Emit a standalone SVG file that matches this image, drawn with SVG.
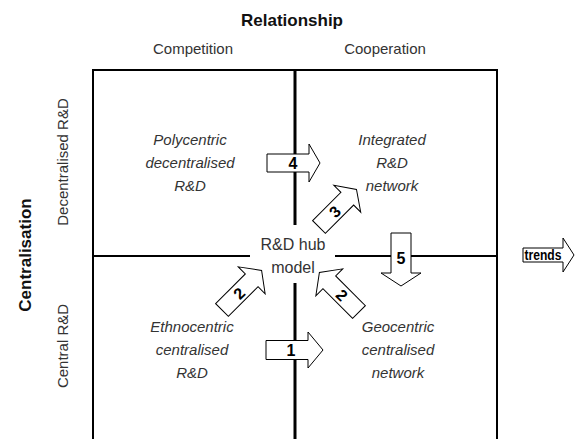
<svg xmlns="http://www.w3.org/2000/svg" width="581" height="439" viewBox="0 0 581 439">
<style>
.t{font-family:"Liberation Sans",Arial,sans-serif;fill:#222}
.hd{font-weight:bold;font-size:17px;fill:#111}
.ax{font-size:15px;fill:#333}
.q{font-style:italic;font-size:15px;fill:#333}
.num{font-weight:bold;font-size:16px;fill:#000}
.frame{stroke:#000;stroke-width:2;fill:none}
.mid{stroke:#000;stroke-width:3;fill:none}
.ba{fill:#fff;stroke:#000;stroke-width:1}
</style>
<rect width="581" height="439" fill="#fff"/>
<g id="frame">
<path class="frame" d="M93,439 V70 H497 V439"/>
<path class="frame" d="M93,256 H250 M335,256 H497"/>
<path class="mid" d="M295,70 V225 M295,283 V439"/>
</g>
<g id="axis-relationship">
<text class="t hd" x="292" y="26" text-anchor="middle">Relationship</text>
<text class="t ax" x="193" y="54" text-anchor="middle">Competition</text>
<text class="t ax" x="385" y="54" text-anchor="middle">Cooperation</text>
</g>
<g id="axis-centralisation">
<text class="t hd" transform="translate(31,255) rotate(-90)" text-anchor="middle">Centralisation</text>
<text class="t ax" transform="translate(68,162) rotate(-90)" text-anchor="middle">Decentralised R&amp;D</text>
<text class="t ax" transform="translate(68,346) rotate(-90)" text-anchor="middle">Central R&amp;D</text>
</g>
<g id="polycentric">
<text class="t q" x="190" text-anchor="middle"><tspan x="190" y="145">Polycentric</tspan><tspan x="190" y="168">decentralised</tspan><tspan x="190" y="191">R&amp;D</tspan></text>
</g>
<g id="integrated">
<text class="t q" x="392" text-anchor="middle"><tspan x="392" y="145">Integrated</tspan><tspan x="392" y="168">R&amp;D</tspan><tspan x="392" y="191">network</tspan></text>
</g>
<g id="ethnocentric">
<text class="t q" x="192" text-anchor="middle"><tspan x="192" y="332">Ethnocentric</tspan><tspan x="192" y="355">centralised</tspan><tspan x="192" y="378">R&amp;D</tspan></text>
</g>
<g id="geocentric">
<text class="t q" x="398" text-anchor="middle"><tspan x="398" y="332">Geocentric</tspan><tspan x="398" y="355">centralised</tspan><tspan x="398" y="378">network</tspan></text>
</g>
<g id="hub">
<text class="t ax" x="293" y="250" text-anchor="middle" style="font-size:16px">R&amp;D hub</text>
<text class="t ax" x="293" y="273" text-anchor="middle" style="font-size:16px">model</text>
</g>
<g id="connectors">
<g id="arrow-4" transform="translate(267,163)">
<path class="ba" d="M0,-9 H42 V-19 L53,0 L42,19 V9 H0 Z"/>
<text class="t num" x="26" y="6" text-anchor="middle">4</text>
</g>
<g id="arrow-1" transform="translate(266,350)">
<path class="ba" d="M0,-9.5 H42 V-18 L57,0 L42,18 V9.5 H0 Z"/>
<text class="t num" x="25" y="6" text-anchor="middle">1</text>
</g>
<g id="arrow-5" transform="translate(401,233) rotate(90)">
<path class="ba" d="M0,-10 H40 V-20 L53,0 L40,20 V10 H0 Z"/>
<text class="t num" transform="translate(25,0) rotate(-90)" y="6" text-anchor="middle">5</text>
</g>
<g id="arrow-3" transform="translate(319,227) rotate(-45)">
<path class="ba" d="M0,-9 H40 V-19 L53,0 L40,19 V9 H0 Z"/>
<text class="t num" x="22" y="6" text-anchor="middle">3</text>
</g>
<g id="arrow-2a" transform="translate(222,310) rotate(-45)">
<path class="ba" d="M0,-9 H42 V-19 L56,0 L42,19 V9 H0 Z"/>
<text class="t num" x="24" y="6" text-anchor="middle">2</text>
</g>
<g id="arrow-2b" transform="translate(359,312) rotate(-135)">
<path class="ba" d="M0,-9 H42 V-19 L56,0 L42,19 V9 H0 Z"/>
<text class="t num" transform="translate(24,0) rotate(180)" y="6" text-anchor="middle">2</text>
</g>
<g id="trends" transform="translate(523,255)">
<path class="ba" d="M0,-7 H40 V-17 L51,0 L40,17 V7 H0 Z"/>
<text class="t num" x="20" y="5" text-anchor="middle" textLength="37" lengthAdjust="spacingAndGlyphs" style="font-size:14px">trends</text>
</g>
</g>
</svg>
